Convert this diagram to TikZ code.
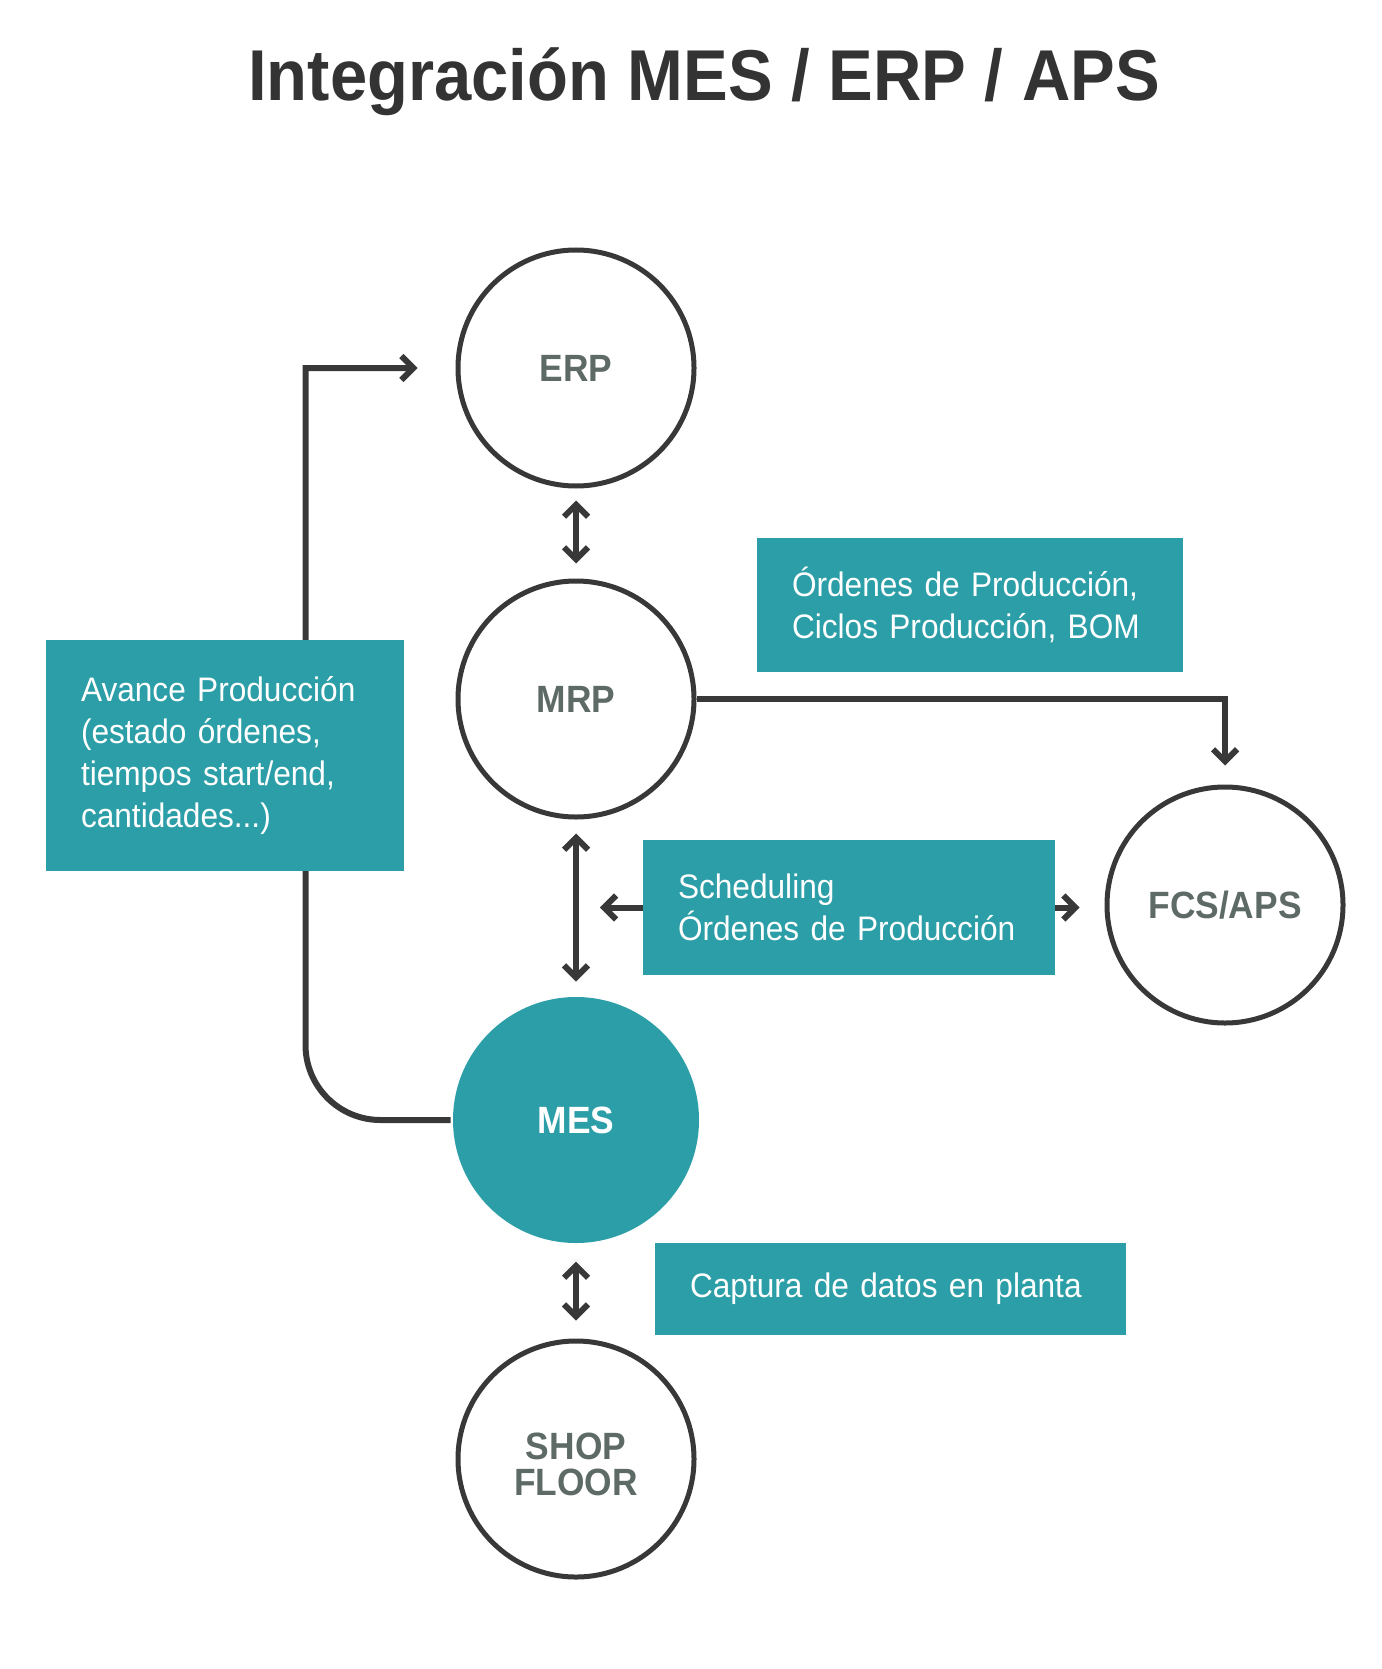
\documentclass[tikz,border=0pt]{standalone}
\usepackage{fontspec}
\setmainfont{Liberation Sans}[FakeStretch=0.93]
\usetikzlibrary{arrows.meta}
\definecolor{mesteal}{HTML}{2B9EA7}
\definecolor{linea}{HTML}{383838}
\definecolor{gristxt}{HTML}{5E6A66}
\definecolor{titulo}{HTML}{333333}
\tikzset{
  sistema/.style={circle,draw=linea,line width=5pt,minimum size=236pt,inner sep=0pt,
    text=gristxt,align=center,font=\fontsize{38}{36}\selectfont\bfseries},
  caja/.style={fill=mesteal,text=white,align=left,inner xsep=35pt,inner ysep=0pt,
    font=\fontsize{34}{42}\selectfont},
  flujo/.style={draw=linea,line width=6pt},
  >={Straight Barb[length=12pt,width=24pt]}
}
\begin{document}
\begin{tikzpicture}[x=1pt,y=-1pt]
				\useasboundingbox (0,0) rectangle (1381,1669);
				\node[anchor=base,text=titulo,font=\fontsize{72}{80}\selectfont\bfseries] (titulo) at (704,101) {Integración MES / ERP / APS};
				% sistemas
				\node[sistema] (erp) at (576,368) {ERP};
				\node[sistema] (mrp) at (576,699) {MRP};
				\node[sistema] (fcs) at (1225,905) {FCS/APS};
				\node[sistema,draw=none,fill=mesteal,text=white,minimum size=246pt] (mes) at (576,1120) {MES};
				\node[sistema,text height=74pt] (shop) at (576,1459) {SHOP\\FLOOR};
				% cajas de datos
				\node[caja,text width=356pt,minimum height=134pt] (ordenes) at (970,605) {Órdenes de Producción,\\Ciclos Producción, BOM};
				\node[caja,text width=342pt,minimum height=135pt] (sched) at (849,907.5) {Scheduling\\Órdenes de Producción};
				\node[caja,text width=401pt,minimum height=92pt] (captura) at (890.5,1289) {Captura de datos en planta};
				\coordinate (erpin) at ([xshift=-38pt]erp.west);
				\coordinate (schedl) at ([xshift=-43pt]sched.west);
				% flujos
				\draw[flujo,<->,shorten <=12pt,shorten >=15pt] (erp.south) -- (mrp.north);
				\draw[flujo,<->,shorten <=14pt,shorten >=13pt] (mrp.south) -- (mes.north);
				\draw[flujo,<->,shorten <=16pt,shorten >=18pt] (mes.south) -- (shop.north);
				\draw[flujo,->,shorten >=19pt] (mrp.east) -| (fcs.north);
				\draw[flujo,->] (sched.west) -- (schedl);
				\draw[flujo,->,shorten >=25pt] (sched.east) -- (fcs.west |- sched.east);
				\draw[flujo,->] (mes.west) -- ([xshift=-70pt]mes.west) arc[start angle=270,end angle=180,radius=75pt] |- (erpin);
				\node[caja,text width=288pt,minimum height=231pt] (avance) at (225,755.5) {Avance Producción\\(estado órdenes,\\tiempos start/end,\\cantidades...)};
			\end{tikzpicture}
\end{document}
